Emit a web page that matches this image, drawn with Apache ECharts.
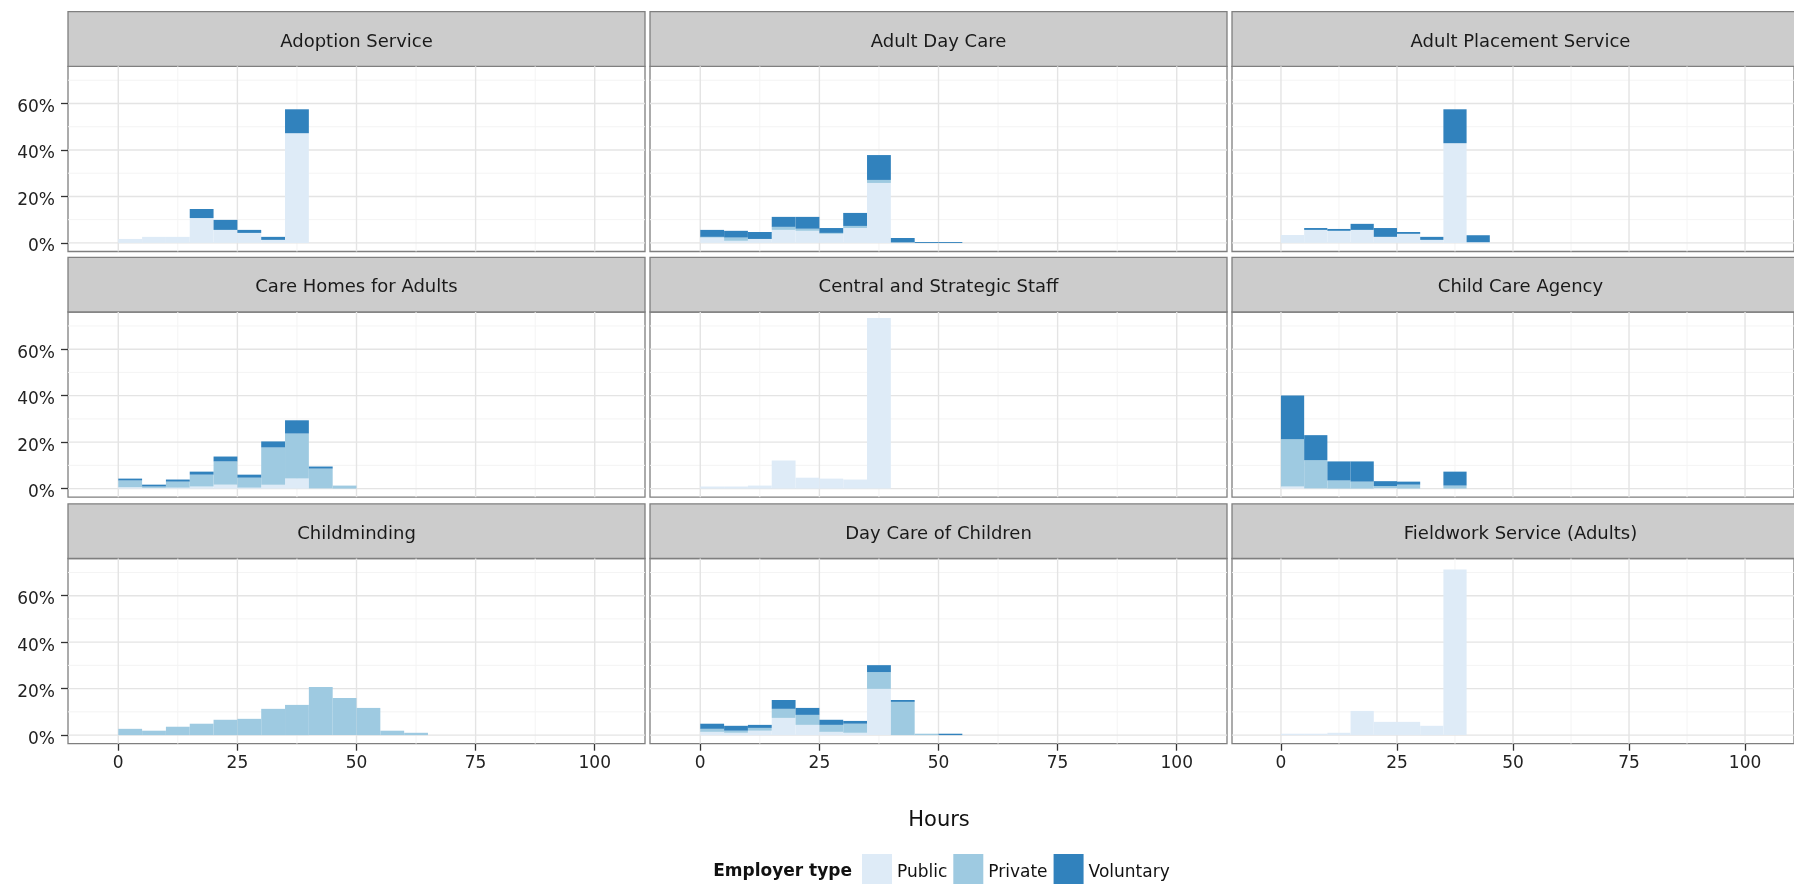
<!DOCTYPE html>
<html><head><meta charset="utf-8">
<script src="https://cdn.jsdelivr.net/npm/echarts@6/dist/echarts.min.js"></script>
<style>html,body{margin:0;padding:0;background:#fff}#c{width:1794px;height:884px}</style>
</head><body><div id="c"></div>
<script>
// ---------- DATA ----------
const panelTitles = [
  'Adoption Service', 'Adult Day Care', 'Adult Placement Service',
  'Care Homes for Adults', 'Central and Strategic Staff', 'Child Care Agency',
  'Childminding', 'Day Care of Children', 'Fieldwork Service (Adults)'
];
const binStarts = [0, 5, 10, 15, 20, 25, 30, 35, 40, 45, 50, 55, 60];
const binWidth = 5;
const employerTypes = ['Public', 'Private', 'Voluntary'];

// share of staff (%) per 5-hour bin, one row per panel
const publicPct = [
  [1.7, 2.6, 2.6, 10.7, 5.6, 4.3, 1.3, 47.2, 0, 0, 0, 0, 0],
  [2.3, 0.9, 1.7, 5.6, 5.2, 3.9, 6.4, 25.8, 0.2, 0, 0, 0, 0],
  [3.4, 5.6, 5.2, 5.6, 2.6, 3.9, 1.3, 42.9, 0.3, 0, 0, 0, 0],
  [0.6, 0.3, 0.4, 0.9, 1.7, 0.4, 1.7, 4.3, 0.1, 0, 0, 0, 0],
  [0.9, 0.9, 1.3, 12.1, 4.7, 4.3, 3.9, 73.4, 0, 0, 0, 0, 0],
  [0.9, 0.1, 0, 0, 0.2, 0, 0, 0, 0, 0, 0, 0, 0],
  [0, 0, 0, 0, 0, 0, 0, 0, 0, 0, 0, 0, 0],
  [1.4, 1.0, 1.9, 7.4, 4.4, 1.4, 1.0, 19.9, 0, 0, 0, 0, 0],
  [0.6, 0.6, 1.0, 10.4, 5.7, 5.7, 4.0, 71.3, 0, 0, 0, 0, 0]
];
const privatePct = [
  [0, 0, 0, 0, 0, 0, 0, 0, 0, 0, 0, 0, 0],
  [0.3, 1.4, 0, 1.3, 0.9, 0.4, 0.9, 1.3, 0, 0, 0, 0, 0],
  [0, 0, 0, 0, 0, 0, 0, 0, 0, 0, 0, 0, 0],
  [2.9, 0.6, 2.6, 5.1, 10.0, 4.3, 16.0, 19.4, 8.5, 1.3, 0, 0, 0],
  [0, 0, 0, 0, 0, 0, 0, 0, 0, 0, 0, 0, 0],
  [20.3, 12.1, 3.5, 3.0, 0.9, 1.7, 0, 1.3, 0, 0, 0, 0, 0],
  [2.7, 1.9, 3.6, 4.9, 6.6, 7.0, 11.3, 13.0, 20.7, 16.0, 11.7, 1.9, 1.0],
  [1.3, 0.9, 1.2, 3.9, 4.3, 3.0, 3.9, 7.2, 14.3, 0.6, 0, 0, 0],
  [0, 0, 0, 0, 0, 0, 0, 0, 0, 0, 0, 0, 0]
];
const voluntaryPct = [
  [0, 0, 0, 3.9, 4.3, 1.3, 1.3, 10.3, 0, 0, 0, 0, 0],
  [3.0, 2.9, 3.0, 4.3, 5.1, 2.1, 5.6, 10.7, 1.9, 0.4, 0.4, 0, 0],
  [0, 0.8, 0.8, 2.6, 3.8, 0.8, 1.3, 14.6, 3.0, 0, 0, 0, 0],
  [0.8, 0.8, 0.9, 1.3, 2.1, 1.3, 2.6, 5.7, 0.9, 0, 0, 0, 0],
  [0, 0, 0, 0, 0, 0, 0, 0, 0, 0, 0, 0, 0],
  [18.9, 10.8, 8.2, 8.7, 2.1, 1.3, 0, 6.0, 0, 0, 0, 0, 0],
  [0, 0, 0, 0, 0, 0, 0, 0, 0, 0, 0, 0, 0],
  [2.2, 2.1, 1.3, 3.8, 3.0, 2.2, 1.2, 3.0, 0.8, 0, 0.6, 0, 0],
  [0, 0, 0, 0, 0, 0, 0, 0, 0, 0, 0, 0, 0]
];
const xTickValues = [0, 25, 50, 75, 100];
const xMinorValues = [12.5, 37.5, 62.5, 87.5];
const yTickValues = [0, 20, 40, 60];
const yMinorValues = [10, 30, 50, 70];

// ---------- STYLE / LAYOUT ----------
const typeColors = ['#DEEBF7', '#9ECAE1', '#3182BD'];
const FONT = 'DejaVu Sans';
const colLeft = [68, 650, 1232];
const panelW = 577;
const panelTop = [66.3, 312, 558.5];
const panelH = 185.2;
const stripH = 54.6;
const X_MIN = -10.55, X_MAX = 110.55;
const Y_MIN = -3.7, Y_MAX = 76;

function renderGridLine(params, api) {
  const kind = api.value(0), v = api.value(1);
  const cs = params.coordSys;
  const minor = (kind === 1 || kind === 3);
  const style = { stroke: minor ? '#F4F4F4' : '#E4E4E4', lineWidth: minor ? 1 : 1.4 };
  if (kind < 2) {
    const x = api.coord([v, 0])[0];
    return { type: 'line', shape: { x1: x, y1: cs.y, x2: x, y2: cs.y + cs.height }, style };
  }
  const y = api.coord([0, v])[1];
  return { type: 'line', shape: { x1: cs.x, y1: y, x2: cs.x + cs.width, y2: y }, style };
}
function renderBar(params, api) {
  const a = api.coord([api.value(0), api.value(3)]);
  const b = api.coord([api.value(1), api.value(2)]);
  return { type: 'rect', shape: { x: a[0], y: a[1], width: b[0] - a[0], height: b[1] - a[1] },
           style: { fill: api.visual('color') } };
}

const grids = [], xAxes = [], yAxes = [], series = [], graphics = [];
const gridLineData = [];
xMinorValues.forEach(v => gridLineData.push([1, v]));
yMinorValues.forEach(v => gridLineData.push([3, v]));
xTickValues.forEach(v => gridLineData.push([0, v]));
yTickValues.forEach(v => gridLineData.push([2, v]));

panelTitles.forEach((title, i) => {
  const r = Math.floor(i / 3), c = i % 3;
  grids.push({ left: colLeft[c], top: panelTop[r], width: panelW, height: panelH,
    show: true, borderColor: '#7F7F7F', borderWidth: 1.3, backgroundColor: '#fff' });
  xAxes.push({ gridIndex: i, type: 'value', min: X_MIN, max: X_MAX, position: 'bottom',
    splitLine: { show: false }, axisLine: { show: false, onZero: false },
    axisTick: { show: r === 2, customValues: xTickValues, length: 7, lineStyle: { color: '#333', width: 1.3 } },
    axisLabel: { show: r === 2, customValues: xTickValues, margin: 11, fontSize: 17, color: '#222', fontFamily: FONT } });
  yAxes.push({ gridIndex: i, type: 'value', min: Y_MIN, max: Y_MAX, position: 'left',
    splitLine: { show: false }, axisLine: { show: false, onZero: false },
    axisTick: { show: c === 0, customValues: yTickValues, length: 7, lineStyle: { color: '#333', width: 1.3 } },
    axisLabel: { show: c === 0, customValues: yTickValues, margin: 13, color: '#222',
      formatter: v => '{t|' + v + '%}',
      rich: { t: { fontSize: 17, fontFamily: FONT, color: '#222', padding: [8, 0, 0, 0] } } } });
  series.push({ type: 'custom', name: 'grid' + i, xAxisIndex: i, yAxisIndex: i, silent: true, z: 1,
    renderItem: renderGridLine, data: gridLineData, encode: { x: 1, y: 1 } });
  const layers = [publicPct[i], privatePct[i], voluntaryPct[i]];
  const cum = binStarts.map(() => 0);
  layers.forEach((vals, k) => {
    const data = [];
    binStarts.forEach((s, j) => {
      const v = vals[j];
      if (v > 0) data.push([s, s + binWidth, cum[j], cum[j] + v]);
      cum[j] += v;
    });
    series.push({ type: 'custom', name: employerTypes[k], xAxisIndex: i, yAxisIndex: i, z: 2,
      itemStyle: { color: typeColors[k] }, renderItem: renderBar, data, encode: { x: [0, 1], y: [2, 3] } });
  });
  // strip
  graphics.push({ type: 'rect', shape: { x: colLeft[c], y: panelTop[r] - stripH, width: panelW, height: stripH },
    style: { fill: '#CCCCCC', stroke: '#7F7F7F', lineWidth: 1.3 } });
  graphics.push({ type: 'text', x: colLeft[c] + panelW / 2, y: panelTop[r] - stripH / 2 + 3,
    style: { text: title, fill: '#1A1A1A', font: '18px "DejaVu Sans"', textAlign: 'center', textVerticalAlign: 'middle' } });
});

graphics.push({ type: 'text', x: 939, y: 821, style: { text: 'Hours', fill: '#111', font: '21px "DejaVu Sans"',
  textAlign: 'center', textVerticalAlign: 'middle' } });
graphics.push({ type: 'text', x: 852, y: 872, style: { text: 'Employer type', fill: '#111', font: 'bold 17px "DejaVu Sans"',
  textAlign: 'right', textVerticalAlign: 'middle' } });

const chart = echarts.init(document.getElementById('c'), null, { renderer: 'canvas' });
chart.setOption({
  animation: false,
  backgroundColor: '#fff',
  grid: grids, xAxis: xAxes, yAxis: yAxes, series,
  legend: { data: employerTypes, left: 862, top: 854, padding: 0, itemWidth: 30, itemHeight: 30, itemGap: 6,
    icon: 'rect', selectedMode: false,
    formatter: name => '{t|' + name + '}',
    textStyle: { fontSize: 17, fontFamily: FONT, color: '#111',
      rich: { t: { fontSize: 17, fontFamily: FONT, color: '#111', padding: [8, 0, 0, 0] } } } },
  graphic: graphics
});
</script></body></html>
